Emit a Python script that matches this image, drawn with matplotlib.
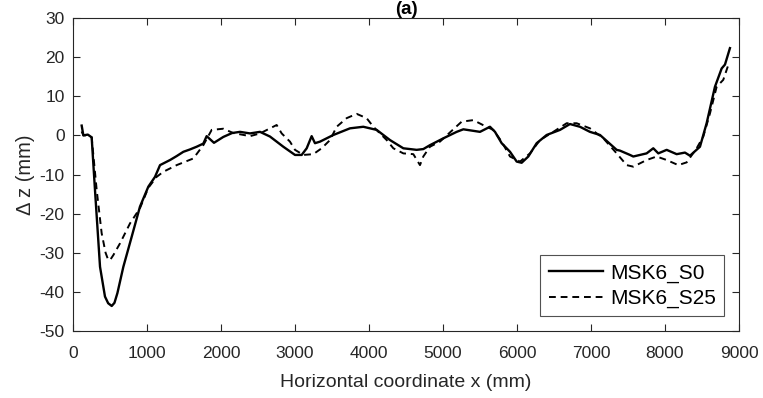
import numpy as np
import matplotlib.pyplot as plt

plt.rcParams['font.family'] = ['Liberation Sans', 'DejaVu Sans']
plt.rcParams['axes.unicode_minus'] = False

# MSK6_S0 (solid)
x_s0 = [117, 140, 200, 252, 297, 365, 432, 475, 523, 560, 600, 680, 793, 905,
        1018, 1108, 1176, 1311, 1400, 1491, 1580, 1671, 1761, 1806, 1905, 2031,
        2150, 2257, 2392, 2527, 2572, 2662, 2842, 3000, 3090, 3158, 3225, 3270,
        3338, 3518, 3743, 3923, 4104, 4284, 4464, 4644, 4734, 4824, 4959, 5005,
        5185, 5275, 5500, 5635, 5703, 5793, 5906, 5996, 6063, 6153, 6266, 6401,
        6581, 6716, 6851, 6986, 7122, 7347, 7392, 7527, 7572, 7752, 7842, 7910,
        8023, 8158, 8270, 8338, 8473, 8563, 8675, 8766, 8811, 8878]
y_s0 = [2.5, 0.0, 0.2, -0.5, -14.0, -33.6, -41.2, -42.9, -43.6, -42.8, -40.3,
        -33.6, -25.9, -18.2, -13.1, -10.6, -7.6, -6.3, -5.3, -4.2, -3.6, -2.9,
        -2.1, -0.2, -1.9, -0.4, 0.6, 0.9, 0.5, 0.9, 0.5, -0.3, -2.9, -5.0,
        -5.0, -3.3, -0.2, -2.0, -1.6, 0.1, 1.8, 2.2, 1.4, -1.2, -3.3, -3.7,
        -3.5, -2.5, -1.2, -0.75, 0.9, 1.55, 0.9, 2.2, 0.9, -2.0, -4.2, -6.7,
        -7.0, -5.4, -2.0, 0.1, 1.4, 2.9, 2.2, 0.9, 0.1, -3.7, -3.9, -5.0, -5.4,
        -4.6, -3.3, -4.6, -3.7, -4.8, -4.4, -5.2, -2.9, 3.1, 12.4, 17.1, 18.1,
        22.3]

# MSK6_S25 (dashed)
x_s25 = [117, 140, 200, 252, 320, 387, 440, 477, 510, 545, 635, 770, 905, 1018,
         1130, 1221, 1401, 1626, 1761, 1874, 2031, 2166, 2392, 2527, 2752, 2820,
         2932, 3000, 3113, 3248, 3360, 3473, 3563, 3698, 3833, 3968, 4059, 4239,
         4329, 4464, 4599, 4689, 4734, 4824, 4959, 5252, 5410, 5545, 5680, 5793,
         5906, 6041, 6176, 6311, 6491, 6671, 6806, 6986, 7167, 7347, 7482, 7572,
         7752, 7887, 8023, 8180, 8293, 8428, 8518, 8608, 8698, 8788, 8856]
y_s25 = [1.0, 0.0, 0.0, -0.5, -14.0, -25.0, -30.0, -31.9, -31.6, -30.6, -27.6,
         -22.5, -18.6, -13.4, -10.6, -9.3, -7.6, -5.9, -2.5, 1.4, 1.7, 0.6,
         -0.2, 0.5, 2.65, 0.5, -1.6, -3.7, -5.0, -4.8, -3.3, -1.2, 2.2, 4.4,
         5.5, 4.4, 2.2, -1.2, -3.3, -4.6, -4.8, -7.6, -5.4, -2.9, -1.6, 3.5,
         3.9, 2.6, 1.4, -1.6, -5.4, -6.7, -4.6, -1.2, 0.9, 3.1, 3.1, 1.8,
         -0.75, -4.6, -7.6, -8.0, -6.3, -5.4, -6.3, -7.6, -6.9, -3.3, -0.3,
         5.6, 12.4, 14.2, 18.0]

xticks = list(range(0, 9001, 1000))
yticks = list(range(-50, 31, 10))

fig = plt.figure(figsize=(7.63, 3.98), dpi=100)
ax = fig.add_axes([0.0957, 0.1683, 0.8728, 0.7865])

ax.plot(x_s0, y_s0, color='black', linewidth=1.7, linestyle='-', label='MSK6_S0')
ax.plot(x_s25, y_s25, color='black', linewidth=1.4, linestyle=(0, (3.5, 2.5)),
        label='MSK6_S25')

ax.set_xlim(0, 9000)
ax.set_ylim(-50, 30)
ax.set_xticks(xticks)
ax.set_yticks(yticks)
ax.tick_params(direction='in', top=True, right=True, length=5, width=0.8,
               labelsize=12.5, colors='#262626', pad=6)
ax.tick_params(axis='x', pad=11)
for s in ax.spines.values():
    s.set_color('#262626')
    s.set_linewidth(0.8)

ax.set_xlabel('Horizontal coordinate x (mm)', fontsize=14, color='#262626', labelpad=9)
ax.set_ylabel('Δ z (mm)', fontsize=14.5, color='#262626', labelpad=3)
ax.set_title('(a)', fontsize=13.5, fontweight='bold', pad=3)

leg = ax.legend(loc='lower right', fontsize=15, frameon=True, fancybox=False,
                edgecolor='#262626', handlelength=2.6, borderaxespad=0.7,
                handletextpad=0.35, borderpad=0.4, labelspacing=0.3)
leg.get_frame().set_linewidth(0.8)

fig.savefig('out.png', dpi=100)
